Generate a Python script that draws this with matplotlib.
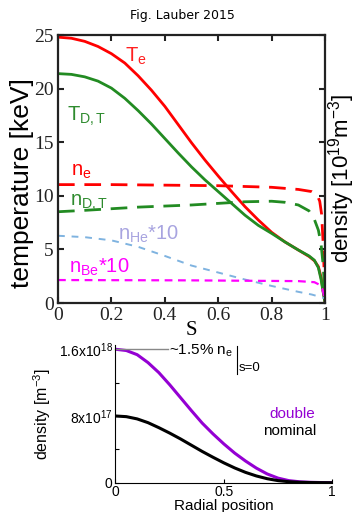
import matplotlib
matplotlib.use("Agg")
import matplotlib.pyplot as plt

plt.rcParams['font.family'] = ['Liberation Sans', 'DejaVu Sans']
plt.rcParams['mathtext.fontset'] = 'custom'
plt.rcParams['mathtext.rm'] = 'Liberation Sans'
plt.rcParams['mathtext.it'] = 'Liberation Sans:italic'

# ---------------- data: top panel ----------------
s_T = [0, 0.05, 0.1, 0.15, 0.2, 0.25, 0.3, 0.35, 0.4, 0.45, 0.5, 0.55, 0.6, 0.65,
       0.7, 0.75, 0.8, 0.85, 0.9, 0.94, 0.96, 0.975, 0.985, 0.993, 1.0]
T_e = [24.8, 24.7, 24.41, 23.93, 23.26, 22.39, 21.2, 19.85, 18.35, 16.65, 14.95, 13.35, 11.85, 10.4,
       9.0, 7.75, 6.6, 5.7, 4.95, 4.35, 3.95, 3.4, 2.4, 1.1, 0.0]
T_DT = [21.4, 21.33, 21.1, 20.7, 20.05, 19.1, 17.95, 16.7, 15.35, 14.0, 12.7, 11.5, 10.4, 9.3,
        8.2, 7.25, 6.5, 5.7, 4.95, 4.4, 4.0, 3.3, 2.2, 1.0, 0.0]

s_ne = [0, 0.2, 0.4, 0.6, 0.8, 0.9, 0.95, 0.97, 0.98, 0.987, 0.993, 0.997, 1.0]
n_e = [11.05, 11.05, 11.0, 10.95, 10.8, 10.6, 10.4, 10.1, 9.5, 8.3, 5.5, 2.5, 0.5]

s_nDT = [0, 0.1, 0.2, 0.3, 0.4, 0.5, 0.6, 0.7, 0.8, 0.85, 0.9, 0.94, 0.96, 0.975, 0.985, 0.993, 1.0]
n_DT = [8.52, 8.65, 8.8, 8.95, 9.05, 9.15, 9.3, 9.45, 9.5, 9.4, 9.15, 8.6, 7.8, 6.8, 5.5, 3.5, 0.5]

s_He = [0, 0.1, 0.2, 0.3, 0.4, 0.5, 0.6, 0.7, 0.8, 0.9, 0.95, 1.0]
n_He10 = [6.28, 6.15, 5.85, 5.25, 4.4, 3.5, 2.85, 2.2, 1.6, 1.05, 0.8, 0.45]

s_Be = [0, 0.5, 0.9, 0.96, 0.98, 0.99, 1.0]
n_Be10 = [2.15, 2.12, 2.05, 1.95, 1.7, 1.3, 0.3]

top_xticks = [0, 0.2, 0.4, 0.6, 0.8, 1.0]
top_xticklabels = ["0", "0.2", "0.4", "0.6", "0.8", "1"]
top_yticks = [0, 5, 10, 15, 20, 25]

# ---------------- data: bottom panel ----------------
r = [0, 0.05, 0.1, 0.15, 0.2, 0.25, 0.3, 0.35, 0.4, 0.45, 0.5, 0.55, 0.6, 0.65,
     0.7, 0.75, 0.8, 0.85, 0.9, 0.95, 1.0]
dens_double = [1.60, 1.585, 1.535, 1.44, 1.32, 1.175, 1.02, 0.865, 0.715, 0.585, 0.465, 0.355, 0.26, 0.175,
               0.105, 0.055, 0.025, 0.011, 0.005, 0.002, 0.0]
dens_nominal = [0.80, 0.792, 0.765, 0.72, 0.66, 0.595, 0.525, 0.45, 0.375, 0.305, 0.238, 0.177, 0.124, 0.081,
                0.048, 0.025, 0.012, 0.005, 0.002, 0.0008, 0.0]
dens_scale = 1e18

fig = plt.figure(figsize=(3.58, 5.12), dpi=100)

# ---------------- top panel ----------------
ax = fig.add_axes([0.162, 0.408, 0.746, 0.5236])
ax.plot(s_T, T_e, color='#ff0000', lw=2.0)
ax.plot(s_T, T_DT, color='#228b22', lw=2.0)
ax.plot(s_ne, n_e, color='#ff0000', lw=2.0, dashes=(6, 3.5))
ax.plot(s_nDT, n_DT, color='#228b22', lw=2.0, dashes=(6, 3.5))
ax.plot(s_He, n_He10, color='#7fb3e0', lw=1.4, dashes=(3.5, 3.5))
ax.plot(s_Be, n_Be10, color='#ff00ff', lw=1.6, dashes=(3.5, 2.5))
ax.set_xlim(0, 1)
ax.set_ylim(0, 25)
ax.set_xticks(top_xticks)
ax.set_xticklabels(top_xticklabels)
ax.set_yticks(top_yticks)
for lab in ax.get_xticklabels() + ax.get_yticklabels():
    lab.set_family('Liberation Serif')
    lab.set_fontsize(14)
ax.tick_params(direction='in', length=4, width=1.5, top=True, right=True, pad=3, colors='#222222')
for sp in ax.spines.values():
    sp.set_linewidth(1.6)
    sp.set_color('#222222')
ax.set_xlabel("S", family='Liberation Serif', fontsize=15, labelpad=-2)

lab_fs = 14.5
ax.text(0.25, 22.5, r"T$_\mathregular{e}$", color='#ff2020', fontsize=lab_fs)
ax.text(0.035, 17.0, r"T$_\mathregular{D,T}$", color='#2e8b2e', fontsize=lab_fs)
ax.text(0.05, 11.9, r"n$_\mathregular{e}$", color='#ff0000', fontsize=lab_fs)
ax.text(0.045, 9.1, r"n$_\mathregular{D,T}$", color='#2e8b2e', fontsize=lab_fs)
ax.text(0.225, 5.95, r"n$_\mathregular{He}$*10", color='#a8a4e0', fontsize=lab_fs)
ax.text(0.04, 2.8, r"n$_\mathregular{Be}$*10", color='#ff00ff', fontsize=lab_fs)

fig.text(22 / 358, 1 - 183 / 512, "temperature [keV]", rotation=90, ha='center', va='center', fontsize=19)
fig.text(342 / 358, 1 - 178 / 512, r"density [10$^{19}$m$^{-3}$]", rotation=90, ha='center', va='center', fontsize=16)
fig.text(0.51, 1 - 15 / 512, "Fig. Lauber 2015", ha='center', va='center', fontsize=9, family='DejaVu Sans')

# ---------------- bottom panel ----------------
bx = fig.add_axes([0.3226, 0.0572, 0.6054, 0.2688])
bx.plot(r, [v * dens_scale for v in dens_double], color='#9400d3', lw=2.2)
bx.plot(r, [v * dens_scale for v in dens_nominal], color='#000000', lw=2.2)
bx.set_xlim(0, 1)
bx.set_ylim(0, 1.65e18)
bx.set_xticks([0, 0.5, 1])
bx.set_xticklabels(["0", "0.5", "1"], fontsize=10)
bx.set_yticks([0, 4e17, 8e17, 1.2e18, 1.6e18])
bx.set_yticklabels(["0", "", r"8x10$^{17}$", "", r"1.6x10$^{18}$"], fontsize=10)
bx.spines['top'].set_visible(False)
bx.spines['right'].set_visible(False)
bx.tick_params(direction='in', length=3, width=0.8, pad=2)
bx.set_xlabel("Radial position", fontsize=11, labelpad=0)
bx.set_ylabel(r"density [m$^{-3}$]", fontsize=11.5, labelpad=4)

bx.plot([0, 0.24], [1.6e18, 1.6e18], color='#888888', lw=1, clip_on=False)
bx.text(0.245, 1.585e18, r"~1.5% n$_\mathregular{e}$", fontsize=11, va='center')
bx.plot([0.56, 0.56], [1.30e18, 1.64e18], color='black', lw=0.8, clip_on=False)
bx.text(0.57, 1.37e18, "s=0", fontsize=9.5, va='center')
bx.text(0.71, 0.82e18, "double", color='#9400d3', fontsize=11, ha='left', va='center')
bx.text(0.68, 0.62e18, "nominal", color='black', fontsize=11, ha='left', va='center')

fig.savefig("out.png", dpi=100)
